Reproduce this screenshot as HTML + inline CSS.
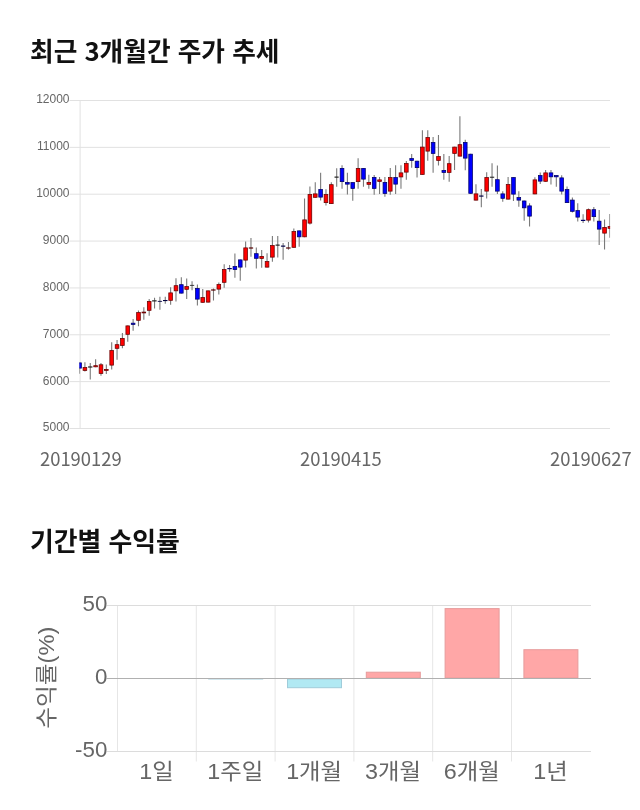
<!DOCTYPE html>
<html lang="ko"><head><meta charset="utf-8"><title>최근 3개월간 주가 추세</title>
<style>
html,body{margin:0;padding:0;background:#fff;}
#page{position:relative;width:640px;height:810px;overflow:hidden;background:#fff;}
h2{position:absolute;left:30px;margin:0;padding:0;font-size:25.7px;line-height:30px;font-weight:700;color:#111;white-space:nowrap;font-family:"Noto Sans CJK KR","Liberation Sans",sans-serif;}
#t1{top:35.4px;}
#t2{top:524.8px;font-size:25.85px;}
svg{position:absolute;left:0;display:block;}
#price{top:90px;}
#returns{top:590px;}
.t{font-family:"Liberation Sans","Noto Sans CJK KR",sans-serif;}
.k{font-family:"Noto Sans CJK KR","Liberation Sans",sans-serif;}
</style></head><body>
<div id="page">
<h2 id="t1">최근 3개월간 주가 추세</h2>
<svg id="price" width="640" height="390" viewBox="0 90 640 390">
<line x1="69.5" y1="100.50" x2="610" y2="100.50" stroke="#e1e1e1" stroke-width="1"/>
<text class="t" x="69.5" y="103.4" font-size="12" fill="#666" text-anchor="end">12000</text>
<line x1="69.5" y1="147.36" x2="610" y2="147.36" stroke="#e1e1e1" stroke-width="1"/>
<text class="t" x="69.5" y="150.3" font-size="12" fill="#666" text-anchor="end">11000</text>
<line x1="69.5" y1="194.21" x2="610" y2="194.21" stroke="#e1e1e1" stroke-width="1"/>
<text class="t" x="69.5" y="197.1" font-size="12" fill="#666" text-anchor="end">10000</text>
<line x1="69.5" y1="241.07" x2="610" y2="241.07" stroke="#e1e1e1" stroke-width="1"/>
<text class="t" x="69.5" y="244.0" font-size="12" fill="#666" text-anchor="end">9000</text>
<line x1="69.5" y1="287.93" x2="610" y2="287.93" stroke="#e1e1e1" stroke-width="1"/>
<text class="t" x="69.5" y="290.8" font-size="12" fill="#666" text-anchor="end">8000</text>
<line x1="69.5" y1="334.78" x2="610" y2="334.78" stroke="#e1e1e1" stroke-width="1"/>
<text class="t" x="69.5" y="337.7" font-size="12" fill="#666" text-anchor="end">7000</text>
<line x1="69.5" y1="381.64" x2="610" y2="381.64" stroke="#e1e1e1" stroke-width="1"/>
<text class="t" x="69.5" y="384.5" font-size="12" fill="#666" text-anchor="end">6000</text>
<line x1="69.5" y1="428.50" x2="610" y2="428.50" stroke="#e1e1e1" stroke-width="1"/>
<text class="t" x="69.5" y="431.4" font-size="12" fill="#666" text-anchor="end">5000</text>
<line x1="80.1" y1="100" x2="80.1" y2="429" stroke="#e1e1e1" stroke-width="1"/>
<text class="k" x="40" y="466" font-size="18.4" fill="#666" text-anchor="start">20190129</text>
<text class="k" x="300" y="466" font-size="18.4" fill="#666" text-anchor="start">20190415</text>
<text class="k" x="550" y="466" font-size="18.4" fill="#666" text-anchor="start">20190627</text>
<defs><clipPath id="cp"><rect x="79.4" y="95" width="530.7" height="340"/></clipPath></defs>
<g clip-path="url(#cp)">
<line x1="79.55" y1="362.5" x2="79.55" y2="373.8" stroke="#7a7a7a" stroke-width="1.1"/><rect x="77.72" y="362.88" width="3.66" height="5.24" fill="#0000ff" stroke="#000068" stroke-width="0.76"/>
<line x1="84.91" y1="362.2" x2="84.91" y2="371.5" stroke="#7a7a7a" stroke-width="1.1"/><rect x="83.08" y="367.58" width="3.66" height="2.84" fill="#ff0000" stroke="#680000" stroke-width="0.76"/>
<line x1="90.26" y1="363.0" x2="90.26" y2="379.5" stroke="#7a7a7a" stroke-width="1.1"/><rect x="88.36" y="366.80" width="3.8" height="0.4" fill="#222222" stroke="#222222" stroke-width="0.6"/>
<line x1="95.62" y1="359.3" x2="95.62" y2="367.2" stroke="#7a7a7a" stroke-width="1.1"/><rect x="93.79" y="365.68" width="3.66" height="1.14" fill="#ff0000" stroke="#680000" stroke-width="0.76"/>
<line x1="100.98" y1="363.0" x2="100.98" y2="375.8" stroke="#7a7a7a" stroke-width="1.1"/><rect x="99.15" y="364.78" width="3.66" height="8.64" fill="#ff0000" stroke="#680000" stroke-width="0.76"/>
<line x1="106.33" y1="364.5" x2="106.33" y2="374.0" stroke="#7a7a7a" stroke-width="1.1"/><rect x="104.50" y="369.38" width="3.66" height="1.04" fill="#ff0000" stroke="#680000" stroke-width="0.76"/>
<line x1="111.69" y1="342.2" x2="111.69" y2="369.5" stroke="#7a7a7a" stroke-width="1.1"/><rect x="109.86" y="350.58" width="3.66" height="14.54" fill="#ff0000" stroke="#680000" stroke-width="0.76"/>
<line x1="117.05" y1="340.0" x2="117.05" y2="359.8" stroke="#7a7a7a" stroke-width="1.1"/><rect x="115.22" y="344.68" width="3.66" height="3.64" fill="#ff0000" stroke="#680000" stroke-width="0.76"/>
<line x1="122.41" y1="333.0" x2="122.41" y2="348.2" stroke="#7a7a7a" stroke-width="1.1"/><rect x="120.58" y="338.38" width="3.66" height="7.04" fill="#ff0000" stroke="#680000" stroke-width="0.76"/>
<line x1="127.76" y1="325.5" x2="127.76" y2="341.8" stroke="#7a7a7a" stroke-width="1.1"/><rect x="125.93" y="325.88" width="3.66" height="8.44" fill="#ff0000" stroke="#680000" stroke-width="0.76"/>
<line x1="133.12" y1="319.0" x2="133.12" y2="330.8" stroke="#7a7a7a" stroke-width="1.1"/><rect x="131.29" y="323.18" width="3.66" height="1.24" fill="#0000ff" stroke="#000068" stroke-width="0.76"/>
<line x1="138.48" y1="310.5" x2="138.48" y2="326.2" stroke="#7a7a7a" stroke-width="1.1"/><rect x="136.65" y="312.58" width="3.66" height="7.74" fill="#ff0000" stroke="#680000" stroke-width="0.76"/>
<line x1="143.83" y1="307.2" x2="143.83" y2="319.8" stroke="#7a7a7a" stroke-width="1.1"/><rect x="142.00" y="312.08" width="3.66" height="0.84" fill="#ff0000" stroke="#680000" stroke-width="0.76"/>
<line x1="149.19" y1="299.0" x2="149.19" y2="315.8" stroke="#7a7a7a" stroke-width="1.1"/><rect x="147.36" y="301.38" width="3.66" height="8.94" fill="#ff0000" stroke="#680000" stroke-width="0.76"/>
<line x1="154.55" y1="297.8" x2="154.55" y2="308.5" stroke="#7a7a7a" stroke-width="1.1"/><rect x="152.65" y="300.70" width="3.8" height="0.4" fill="#222222" stroke="#222222" stroke-width="0.6"/>
<line x1="159.91" y1="296.8" x2="159.91" y2="309.8" stroke="#7a7a7a" stroke-width="1.1"/><rect x="158.00" y="301.20" width="3.8" height="0.4" fill="#000060" stroke="#000040" stroke-width="0.6"/>
<line x1="165.26" y1="296.8" x2="165.26" y2="303.8" stroke="#7a7a7a" stroke-width="1.1"/><rect x="163.36" y="300.40" width="3.8" height="0.4" fill="#000060" stroke="#000040" stroke-width="0.6"/>
<line x1="170.62" y1="287.2" x2="170.62" y2="304.8" stroke="#7a7a7a" stroke-width="1.1"/><rect x="168.79" y="292.88" width="3.66" height="7.44" fill="#ff0000" stroke="#680000" stroke-width="0.76"/>
<line x1="175.98" y1="278.2" x2="175.98" y2="301.5" stroke="#7a7a7a" stroke-width="1.1"/><rect x="174.15" y="285.68" width="3.66" height="5.14" fill="#ff0000" stroke="#680000" stroke-width="0.76"/>
<line x1="181.33" y1="277.2" x2="181.33" y2="293.5" stroke="#7a7a7a" stroke-width="1.1"/><rect x="179.50" y="284.68" width="3.66" height="8.44" fill="#0000ff" stroke="#000068" stroke-width="0.76"/>
<line x1="186.69" y1="278.5" x2="186.69" y2="299.0" stroke="#7a7a7a" stroke-width="1.1"/><rect x="184.86" y="286.58" width="3.66" height="2.74" fill="#ff0000" stroke="#680000" stroke-width="0.76"/>
<line x1="192.05" y1="281.2" x2="192.05" y2="290.2" stroke="#7a7a7a" stroke-width="1.1"/><rect x="190.15" y="285.20" width="3.8" height="0.4" fill="#222222" stroke="#222222" stroke-width="0.6"/>
<line x1="197.40" y1="284.5" x2="197.40" y2="305.5" stroke="#7a7a7a" stroke-width="1.1"/><rect x="195.57" y="288.38" width="3.66" height="10.74" fill="#0000ff" stroke="#000068" stroke-width="0.76"/>
<line x1="202.76" y1="289.0" x2="202.76" y2="302.7" stroke="#7a7a7a" stroke-width="1.1"/><rect x="200.93" y="297.58" width="3.66" height="4.74" fill="#ff0000" stroke="#680000" stroke-width="0.76"/>
<line x1="208.12" y1="290.5" x2="208.12" y2="302.5" stroke="#7a7a7a" stroke-width="1.1"/><rect x="206.29" y="290.88" width="3.66" height="11.24" fill="#ff0000" stroke="#680000" stroke-width="0.76"/>
<line x1="213.48" y1="288.5" x2="213.48" y2="300.5" stroke="#7a7a7a" stroke-width="1.1"/><rect x="211.58" y="289.80" width="3.8" height="0.4" fill="#700000" stroke="#500000" stroke-width="0.6"/>
<line x1="218.83" y1="282.5" x2="218.83" y2="294.5" stroke="#7a7a7a" stroke-width="1.1"/><rect x="217.00" y="284.58" width="3.66" height="4.54" fill="#ff0000" stroke="#680000" stroke-width="0.76"/>
<line x1="224.19" y1="264.2" x2="224.19" y2="287.8" stroke="#7a7a7a" stroke-width="1.1"/><rect x="222.36" y="269.58" width="3.66" height="12.74" fill="#ff0000" stroke="#680000" stroke-width="0.76"/>
<line x1="229.55" y1="265.0" x2="229.55" y2="271.8" stroke="#7a7a7a" stroke-width="1.1"/><rect x="227.72" y="268.38" width="3.66" height="0.44" fill="#0000ff" stroke="#000068" stroke-width="0.76"/>
<line x1="234.90" y1="253.5" x2="234.90" y2="277.7" stroke="#7a7a7a" stroke-width="1.1"/><rect x="233.07" y="266.58" width="3.66" height="3.04" fill="#0000ff" stroke="#000068" stroke-width="0.76"/>
<line x1="240.26" y1="259.5" x2="240.26" y2="280.7" stroke="#7a7a7a" stroke-width="1.1"/><rect x="238.43" y="259.88" width="3.66" height="7.24" fill="#0000ff" stroke="#000068" stroke-width="0.76"/>
<line x1="245.62" y1="241.5" x2="245.62" y2="267.5" stroke="#7a7a7a" stroke-width="1.1"/><rect x="243.79" y="247.88" width="3.66" height="12.24" fill="#ff0000" stroke="#680000" stroke-width="0.76"/>
<line x1="250.97" y1="238.0" x2="250.97" y2="256.8" stroke="#7a7a7a" stroke-width="1.1"/><rect x="249.07" y="247.80" width="3.8" height="0.4" fill="#700000" stroke="#500000" stroke-width="0.6"/>
<line x1="256.33" y1="247.5" x2="256.33" y2="268.5" stroke="#7a7a7a" stroke-width="1.1"/><rect x="254.50" y="253.68" width="3.66" height="4.64" fill="#0000ff" stroke="#000068" stroke-width="0.76"/>
<line x1="261.69" y1="250.0" x2="261.69" y2="267.8" stroke="#7a7a7a" stroke-width="1.1"/><rect x="259.86" y="256.38" width="3.66" height="2.04" fill="#ff0000" stroke="#680000" stroke-width="0.76"/>
<line x1="267.05" y1="253.2" x2="267.05" y2="267.5" stroke="#7a7a7a" stroke-width="1.1"/><rect x="265.22" y="261.58" width="3.66" height="5.54" fill="#ff0000" stroke="#680000" stroke-width="0.76"/>
<line x1="272.40" y1="236.0" x2="272.40" y2="261.8" stroke="#7a7a7a" stroke-width="1.1"/><rect x="270.57" y="245.58" width="3.66" height="11.54" fill="#ff0000" stroke="#680000" stroke-width="0.76"/>
<line x1="277.76" y1="236.0" x2="277.76" y2="257.5" stroke="#7a7a7a" stroke-width="1.1"/><rect x="275.86" y="244.90" width="3.8" height="0.4" fill="#222222" stroke="#222222" stroke-width="0.6"/>
<line x1="283.12" y1="243.0" x2="283.12" y2="259.8" stroke="#7a7a7a" stroke-width="1.1"/><rect x="281.22" y="245.90" width="3.8" height="0.4" fill="#000060" stroke="#000040" stroke-width="0.6"/>
<line x1="288.47" y1="242.0" x2="288.47" y2="249.8" stroke="#7a7a7a" stroke-width="1.1"/><rect x="286.57" y="247.80" width="3.8" height="0.4" fill="#700000" stroke="#500000" stroke-width="0.6"/>
<line x1="293.83" y1="228.5" x2="293.83" y2="247.7" stroke="#7a7a7a" stroke-width="1.1"/><rect x="292.00" y="231.58" width="3.66" height="15.74" fill="#ff0000" stroke="#680000" stroke-width="0.76"/>
<line x1="299.19" y1="230.5" x2="299.19" y2="246.8" stroke="#7a7a7a" stroke-width="1.1"/><rect x="297.36" y="230.88" width="3.66" height="5.94" fill="#0000ff" stroke="#000068" stroke-width="0.76"/>
<line x1="304.54" y1="198.5" x2="304.54" y2="237.2" stroke="#7a7a7a" stroke-width="1.1"/><rect x="302.71" y="219.88" width="3.66" height="16.94" fill="#ff0000" stroke="#680000" stroke-width="0.76"/>
<line x1="309.90" y1="186.5" x2="309.90" y2="224.6" stroke="#7a7a7a" stroke-width="1.1"/><rect x="308.07" y="194.58" width="3.66" height="28.54" fill="#ff0000" stroke="#680000" stroke-width="0.76"/>
<line x1="315.26" y1="182.2" x2="315.26" y2="197.7" stroke="#7a7a7a" stroke-width="1.1"/><rect x="313.43" y="193.88" width="3.66" height="3.44" fill="#ff0000" stroke="#680000" stroke-width="0.76"/>
<line x1="320.62" y1="172.8" x2="320.62" y2="200.5" stroke="#7a7a7a" stroke-width="1.1"/><rect x="318.79" y="189.58" width="3.66" height="7.54" fill="#0000ff" stroke="#000068" stroke-width="0.76"/>
<line x1="325.97" y1="189.2" x2="325.97" y2="205.5" stroke="#7a7a7a" stroke-width="1.1"/><rect x="324.14" y="194.58" width="3.66" height="8.04" fill="#ff0000" stroke="#680000" stroke-width="0.76"/>
<line x1="331.33" y1="182.2" x2="331.33" y2="204.0" stroke="#7a7a7a" stroke-width="1.1"/><rect x="329.50" y="184.68" width="3.66" height="18.94" fill="#ff0000" stroke="#680000" stroke-width="0.76"/>
<line x1="336.69" y1="168.2" x2="336.69" y2="186.8" stroke="#7a7a7a" stroke-width="1.1"/><rect x="334.79" y="176.90" width="3.8" height="0.4" fill="#222222" stroke="#222222" stroke-width="0.6"/>
<line x1="342.04" y1="165.2" x2="342.04" y2="188.8" stroke="#7a7a7a" stroke-width="1.1"/><rect x="340.21" y="168.38" width="3.66" height="13.24" fill="#0000ff" stroke="#000068" stroke-width="0.76"/>
<line x1="347.40" y1="172.8" x2="347.40" y2="194.5" stroke="#7a7a7a" stroke-width="1.1"/><rect x="345.57" y="182.38" width="3.66" height="1.74" fill="#0000ff" stroke="#000068" stroke-width="0.76"/>
<line x1="352.76" y1="182.2" x2="352.76" y2="200.8" stroke="#7a7a7a" stroke-width="1.1"/><rect x="350.93" y="182.58" width="3.66" height="5.84" fill="#0000ff" stroke="#000068" stroke-width="0.76"/>
<line x1="358.11" y1="158.2" x2="358.11" y2="188.8" stroke="#7a7a7a" stroke-width="1.1"/><rect x="356.28" y="168.38" width="3.66" height="13.24" fill="#ff0000" stroke="#680000" stroke-width="0.76"/>
<line x1="363.47" y1="168.0" x2="363.47" y2="186.8" stroke="#7a7a7a" stroke-width="1.1"/><rect x="361.64" y="168.38" width="3.66" height="10.74" fill="#0000ff" stroke="#000068" stroke-width="0.76"/>
<line x1="368.83" y1="174.8" x2="368.83" y2="188.8" stroke="#7a7a7a" stroke-width="1.1"/><rect x="367.00" y="182.38" width="3.66" height="1.94" fill="#ff0000" stroke="#680000" stroke-width="0.76"/>
<line x1="374.19" y1="175.0" x2="374.19" y2="194.8" stroke="#7a7a7a" stroke-width="1.1"/><rect x="372.36" y="177.38" width="3.66" height="11.04" fill="#0000ff" stroke="#000068" stroke-width="0.76"/>
<line x1="379.54" y1="177.0" x2="379.54" y2="194.0" stroke="#7a7a7a" stroke-width="1.1"/><rect x="377.71" y="179.88" width="3.66" height="1.54" fill="#ff0000" stroke="#680000" stroke-width="0.76"/>
<line x1="384.90" y1="177.0" x2="384.90" y2="196.8" stroke="#7a7a7a" stroke-width="1.1"/><rect x="383.07" y="182.38" width="3.66" height="11.04" fill="#0000ff" stroke="#000068" stroke-width="0.76"/>
<line x1="390.26" y1="168.0" x2="390.26" y2="194.8" stroke="#7a7a7a" stroke-width="1.1"/><rect x="388.43" y="177.58" width="3.66" height="13.54" fill="#ff0000" stroke="#680000" stroke-width="0.76"/>
<line x1="395.61" y1="165.3" x2="395.61" y2="194.0" stroke="#7a7a7a" stroke-width="1.1"/><rect x="393.78" y="177.58" width="3.66" height="6.54" fill="#0000ff" stroke="#000068" stroke-width="0.76"/>
<line x1="400.97" y1="165.3" x2="400.97" y2="188.8" stroke="#7a7a7a" stroke-width="1.1"/><rect x="399.14" y="172.88" width="3.66" height="4.04" fill="#ff0000" stroke="#680000" stroke-width="0.76"/>
<line x1="406.33" y1="161.0" x2="406.33" y2="179.8" stroke="#7a7a7a" stroke-width="1.1"/><rect x="404.50" y="163.58" width="3.66" height="8.54" fill="#ff0000" stroke="#680000" stroke-width="0.76"/>
<line x1="411.68" y1="154.0" x2="411.68" y2="167.8" stroke="#7a7a7a" stroke-width="1.1"/><rect x="409.85" y="158.58" width="3.66" height="1.84" fill="#0000ff" stroke="#000068" stroke-width="0.76"/>
<line x1="417.04" y1="160.8" x2="417.04" y2="177.5" stroke="#7a7a7a" stroke-width="1.1"/><rect x="415.21" y="161.18" width="3.66" height="6.44" fill="#0000ff" stroke="#000068" stroke-width="0.76"/>
<line x1="422.40" y1="130.2" x2="422.40" y2="174.8" stroke="#7a7a7a" stroke-width="1.1"/><rect x="420.57" y="147.08" width="3.66" height="27.34" fill="#ff0000" stroke="#680000" stroke-width="0.76"/>
<line x1="427.76" y1="130.2" x2="427.76" y2="160.8" stroke="#7a7a7a" stroke-width="1.1"/><rect x="425.93" y="137.58" width="3.66" height="13.54" fill="#ff0000" stroke="#680000" stroke-width="0.76"/>
<line x1="433.11" y1="137.0" x2="433.11" y2="172.8" stroke="#7a7a7a" stroke-width="1.1"/><rect x="431.28" y="142.38" width="3.66" height="11.04" fill="#0000ff" stroke="#000068" stroke-width="0.76"/>
<line x1="438.47" y1="135.0" x2="438.47" y2="165.5" stroke="#7a7a7a" stroke-width="1.1"/><rect x="436.64" y="156.58" width="3.66" height="3.84" fill="#ff0000" stroke="#680000" stroke-width="0.76"/>
<line x1="443.83" y1="154.0" x2="443.83" y2="179.8" stroke="#7a7a7a" stroke-width="1.1"/><rect x="442.00" y="170.38" width="3.66" height="2.04" fill="#0000ff" stroke="#000068" stroke-width="0.76"/>
<line x1="449.18" y1="156.0" x2="449.18" y2="181.8" stroke="#7a7a7a" stroke-width="1.1"/><rect x="447.35" y="163.68" width="3.66" height="8.74" fill="#ff0000" stroke="#680000" stroke-width="0.76"/>
<line x1="454.54" y1="146.7" x2="454.54" y2="170.0" stroke="#7a7a7a" stroke-width="1.1"/><rect x="452.71" y="147.08" width="3.66" height="6.34" fill="#ff0000" stroke="#680000" stroke-width="0.76"/>
<line x1="459.90" y1="116.2" x2="459.90" y2="156.5" stroke="#7a7a7a" stroke-width="1.1"/><rect x="458.07" y="144.68" width="3.66" height="11.44" fill="#ff0000" stroke="#680000" stroke-width="0.76"/>
<line x1="465.25" y1="139.7" x2="465.25" y2="170.3" stroke="#7a7a7a" stroke-width="1.1"/><rect x="463.42" y="142.38" width="3.66" height="15.74" fill="#0000ff" stroke="#000068" stroke-width="0.76"/>
<line x1="470.61" y1="153.8" x2="470.61" y2="193.7" stroke="#7a7a7a" stroke-width="1.1"/><rect x="468.78" y="154.18" width="3.66" height="39.14" fill="#0000ff" stroke="#000068" stroke-width="0.76"/>
<line x1="475.97" y1="184.2" x2="475.97" y2="200.5" stroke="#7a7a7a" stroke-width="1.1"/><rect x="474.14" y="193.88" width="3.66" height="6.24" fill="#ff0000" stroke="#680000" stroke-width="0.76"/>
<line x1="481.33" y1="189.0" x2="481.33" y2="207.2" stroke="#7a7a7a" stroke-width="1.1"/><rect x="479.43" y="195.85" width="3.8" height="0.4" fill="#000060" stroke="#000040" stroke-width="0.6"/>
<line x1="486.68" y1="172.2" x2="486.68" y2="198.5" stroke="#7a7a7a" stroke-width="1.1"/><rect x="484.85" y="177.58" width="3.66" height="13.54" fill="#ff0000" stroke="#680000" stroke-width="0.76"/>
<line x1="492.04" y1="163.2" x2="492.04" y2="186.8" stroke="#7a7a7a" stroke-width="1.1"/><rect x="490.14" y="177.00" width="3.8" height="0.4" fill="#222222" stroke="#222222" stroke-width="0.6"/>
<line x1="497.40" y1="165.5" x2="497.40" y2="194.0" stroke="#7a7a7a" stroke-width="1.1"/><rect x="495.57" y="179.68" width="3.66" height="11.44" fill="#0000ff" stroke="#000068" stroke-width="0.76"/>
<line x1="502.75" y1="191.2" x2="502.75" y2="201.8" stroke="#7a7a7a" stroke-width="1.1"/><rect x="500.92" y="193.88" width="3.66" height="4.44" fill="#0000ff" stroke="#000068" stroke-width="0.76"/>
<line x1="508.11" y1="177.0" x2="508.11" y2="199.5" stroke="#7a7a7a" stroke-width="1.1"/><rect x="506.28" y="184.58" width="3.66" height="14.54" fill="#ff0000" stroke="#680000" stroke-width="0.76"/>
<line x1="513.47" y1="177.2" x2="513.47" y2="201.0" stroke="#7a7a7a" stroke-width="1.1"/><rect x="511.64" y="177.58" width="3.66" height="16.54" fill="#0000ff" stroke="#000068" stroke-width="0.76"/>
<line x1="518.82" y1="191.2" x2="518.82" y2="206.8" stroke="#7a7a7a" stroke-width="1.1"/><rect x="516.99" y="197.58" width="3.66" height="2.54" fill="#0000ff" stroke="#000068" stroke-width="0.76"/>
<line x1="524.18" y1="200.6" x2="524.18" y2="220.8" stroke="#7a7a7a" stroke-width="1.1"/><rect x="522.35" y="200.98" width="3.66" height="6.84" fill="#0000ff" stroke="#000068" stroke-width="0.76"/>
<line x1="529.54" y1="203.2" x2="529.54" y2="226.5" stroke="#7a7a7a" stroke-width="1.1"/><rect x="527.71" y="205.88" width="3.66" height="10.24" fill="#0000ff" stroke="#000068" stroke-width="0.76"/>
<line x1="534.89" y1="177.2" x2="534.89" y2="194.3" stroke="#7a7a7a" stroke-width="1.1"/><rect x="533.06" y="179.88" width="3.66" height="14.04" fill="#ff0000" stroke="#680000" stroke-width="0.76"/>
<line x1="540.25" y1="172.5" x2="540.25" y2="184.0" stroke="#7a7a7a" stroke-width="1.1"/><rect x="538.42" y="175.58" width="3.66" height="5.54" fill="#0000ff" stroke="#000068" stroke-width="0.76"/>
<line x1="545.61" y1="170.0" x2="545.61" y2="181.7" stroke="#7a7a7a" stroke-width="1.1"/><rect x="543.78" y="172.88" width="3.66" height="8.44" fill="#ff0000" stroke="#680000" stroke-width="0.76"/>
<line x1="550.97" y1="170.0" x2="550.97" y2="184.5" stroke="#7a7a7a" stroke-width="1.1"/><rect x="549.14" y="172.88" width="3.66" height="3.94" fill="#0000ff" stroke="#000068" stroke-width="0.76"/>
<line x1="556.32" y1="175.2" x2="556.32" y2="186.8" stroke="#7a7a7a" stroke-width="1.1"/><rect x="554.49" y="175.58" width="3.66" height="1.24" fill="#0000ff" stroke="#000068" stroke-width="0.76"/>
<line x1="561.68" y1="175.2" x2="561.68" y2="194.5" stroke="#7a7a7a" stroke-width="1.1"/><rect x="559.85" y="177.88" width="3.66" height="13.24" fill="#0000ff" stroke="#000068" stroke-width="0.76"/>
<line x1="567.04" y1="186.5" x2="567.04" y2="203.0" stroke="#7a7a7a" stroke-width="1.1"/><rect x="565.21" y="189.58" width="3.66" height="13.04" fill="#0000ff" stroke="#000068" stroke-width="0.76"/>
<line x1="572.39" y1="197.5" x2="572.39" y2="212.5" stroke="#7a7a7a" stroke-width="1.1"/><rect x="570.56" y="200.08" width="3.66" height="11.24" fill="#0000ff" stroke="#000068" stroke-width="0.76"/>
<line x1="577.75" y1="203.2" x2="577.75" y2="221.5" stroke="#7a7a7a" stroke-width="1.1"/><rect x="575.92" y="210.58" width="3.66" height="6.54" fill="#0000ff" stroke="#000068" stroke-width="0.76"/>
<line x1="583.11" y1="214.3" x2="583.11" y2="223.1" stroke="#7a7a7a" stroke-width="1.1"/><rect x="581.28" y="220.18" width="3.66" height="0.44" fill="#0000ff" stroke="#000068" stroke-width="0.76"/>
<line x1="588.47" y1="208.5" x2="588.47" y2="222.5" stroke="#7a7a7a" stroke-width="1.1"/><rect x="586.63" y="209.68" width="3.66" height="10.44" fill="#ff0000" stroke="#680000" stroke-width="0.76"/>
<line x1="593.82" y1="207.0" x2="593.82" y2="221.5" stroke="#7a7a7a" stroke-width="1.1"/><rect x="591.99" y="209.68" width="3.66" height="6.94" fill="#0000ff" stroke="#000068" stroke-width="0.76"/>
<line x1="599.18" y1="210.0" x2="599.18" y2="245.0" stroke="#7a7a7a" stroke-width="1.1"/><rect x="597.35" y="221.18" width="3.66" height="7.94" fill="#0000ff" stroke="#000068" stroke-width="0.76"/>
<line x1="604.54" y1="219.5" x2="604.54" y2="249.5" stroke="#7a7a7a" stroke-width="1.1"/><rect x="602.71" y="227.38" width="3.66" height="5.74" fill="#ff0000" stroke="#680000" stroke-width="0.76"/>
<line x1="609.89" y1="214.0" x2="609.89" y2="237.8" stroke="#7a7a7a" stroke-width="1.1"/><rect x="608.06" y="226.58" width="3.66" height="1.74" fill="#ff0000" stroke="#680000" stroke-width="0.76"/>
</g>
</svg>
<h2 id="t2">기간별 수익률</h2>
<svg id="returns" width="640" height="220" viewBox="0 590 640 220">
<line x1="117.5" y1="605.5" x2="117.5" y2="751.5" stroke="#e6e6e6" stroke-width="1"/>
<line x1="196.3" y1="605.5" x2="196.3" y2="761.5" stroke="#e6e6e6" stroke-width="1"/>
<line x1="275.1" y1="605.5" x2="275.1" y2="761.5" stroke="#e6e6e6" stroke-width="1"/>
<line x1="353.9" y1="605.5" x2="353.9" y2="761.5" stroke="#e6e6e6" stroke-width="1"/>
<line x1="432.7" y1="605.5" x2="432.7" y2="761.5" stroke="#e6e6e6" stroke-width="1"/>
<line x1="511.5" y1="605.5" x2="511.5" y2="761.5" stroke="#e6e6e6" stroke-width="1"/>
<line x1="106.5" y1="605.5" x2="591" y2="605.5" stroke="#dcdcdc" stroke-width="1"/>
<line x1="106.5" y1="751.5" x2="591" y2="751.5" stroke="#dcdcdc" stroke-width="1"/>
<text class="t" transform="translate(156.5 778.6) scale(1.015 0.94)" font-size="23" fill="#666" text-anchor="middle">1일</text>
<text class="t" transform="translate(235.3 778.6) scale(1.015 0.94)" font-size="23" fill="#666" text-anchor="middle">1주일</text>
<line x1="208.2" y1="678.8" x2="263.2" y2="678.8" stroke="#a3cddb" stroke-width="1.3"/>
<text class="t" transform="translate(314.1 778.6) scale(1.015 0.94)" font-size="23" fill="#666" text-anchor="middle">1개월</text>
<rect x="287.5" y="679.0" width="54" height="8.7" fill="#b1e9f3" stroke="#a0ccda" stroke-width="1"/>
<text class="t" transform="translate(392.9 778.6) scale(1.015 0.94)" font-size="23" fill="#666" text-anchor="middle">3개월</text>
<rect x="366.3" y="672.2" width="54" height="5.8" fill="#ffa7a7" stroke="#e79c9c" stroke-width="1"/>
<text class="t" transform="translate(471.7 778.6) scale(1.015 0.94)" font-size="23" fill="#666" text-anchor="middle">6개월</text>
<rect x="445.1" y="608.6" width="54" height="69.4" fill="#ffa7a7" stroke="#e79c9c" stroke-width="1"/>
<text class="t" transform="translate(550.5 778.6) scale(1.015 0.94)" font-size="23" fill="#666" text-anchor="middle">1년</text>
<rect x="523.9" y="649.7" width="54" height="28.3" fill="#ffa7a7" stroke="#e79c9c" stroke-width="1"/>
<line x1="106.5" y1="678.5" x2="591" y2="678.5" stroke="#b0b0b0" stroke-width="1"/>
<text class="t" x="107.3" y="610.7" font-size="22.3" fill="#666" text-anchor="end">50</text>
<text class="t" x="107.3" y="683.9" font-size="22.3" fill="#666" text-anchor="end">0</text>
<text class="t" x="107.3" y="756.9" font-size="22.3" fill="#666" text-anchor="end">-50</text>
<text class="t" transform="translate(53.7 677.7) rotate(-90) scale(1 0.9)" font-size="23.7" fill="#666" text-anchor="middle">수익률(%)</text>
</svg>
</div>
</body></html>
